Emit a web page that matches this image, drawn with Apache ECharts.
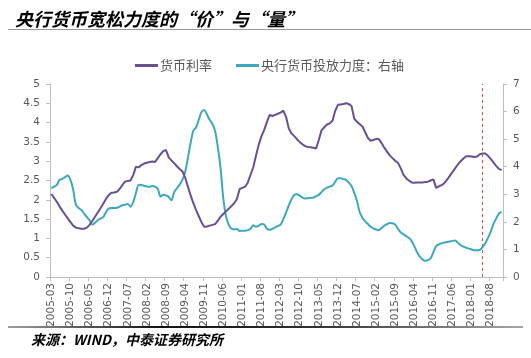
<!DOCTYPE html>
<html>
<head>
<meta charset="utf-8">
<script src="https://cdn.jsdelivr.net/npm/echarts@6/dist/echarts.min.js"></script>
<style>html,body{margin:0;padding:0;background:#fff}#c{width:531px;height:358px}</style>
</head>
<body>
<div id="c"></div>
<script>
// categories: monthly, 2005-03 .. 2018-12
var startYear = 2005, startMonth = 3, monthCount = 166;
var categories = [];
for (var i = 0; i < monthCount; i++) {
  var m = startMonth - 1 + i;
  var y = startYear + Math.floor(m / 12);
  var mm = (m % 12) + 1;
  categories.push(y + '-' + (mm < 10 ? '0' + mm : mm));
}
var markMonth = '2018-05';

var seriesNames = ['货币利率', '央行货币投放力度：右轴'];

// 货币利率 (left axis)
var rateValues = [
  2.15,2.05,1.95,1.83,1.72,1.62,1.52,1.42,1.33,1.28,
  1.26,1.25,1.25,1.28,1.35,1.45,1.56,1.67,1.78,1.90,
  2.02,2.12,2.18,2.19,2.21,2.28,2.38,2.47,2.49,2.50,
  2.64,2.86,2.84,2.90,2.94,2.96,2.98,2.99,2.98,3.08,
  3.18,3.26,3.29,3.10,3.02,2.95,2.87,2.80,2.74,2.58,
  2.35,2.12,1.92,1.74,1.58,1.42,1.30,1.31,1.33,1.35,
  1.37,1.46,1.56,1.63,1.70,1.77,1.84,1.91,2.02,2.28,
  2.31,2.34,2.45,2.65,2.85,3.15,3.43,3.65,3.81,4.02,
  4.20,4.17,4.20,4.23,4.26,4.31,4.15,3.85,3.72,3.65,
  3.57,3.50,3.44,3.39,3.37,3.36,3.35,3.33,3.55,3.80,
  3.88,3.95,3.98,4.05,4.30,4.46,4.47,4.48,4.50,4.48,
  4.43,4.10,4.02,3.96,3.90,3.75,3.60,3.53,3.55,3.58,
  3.57,3.47,3.35,3.25,3.15,3.08,3.01,2.96,2.82,2.65,
  2.56,2.50,2.45,2.44,2.45,2.45,2.45,2.46,2.47,2.50,
  2.53,2.31,2.35,2.38,2.43,2.52,2.62,2.72,2.82,2.92,
  3.00,3.07,3.13,3.13,3.12,3.11,3.12,3.18,3.20,3.20,
  3.14,3.06,2.97,2.88,2.80,2.77
];

// 央行货币投放力度 (right axis)
var supplyValues = [
  3.22,3.28,3.34,3.52,3.56,3.62,3.68,3.52,3.16,2.62,
  2.50,2.43,2.30,2.18,2.05,1.90,1.97,2.06,2.12,2.17,
  2.35,2.48,2.50,2.50,2.51,2.55,2.60,2.62,2.65,2.55,
  2.72,3.05,3.35,3.34,3.31,3.28,3.27,3.30,3.28,3.20,
  2.92,2.98,2.96,2.90,2.78,3.08,3.22,3.35,3.52,3.80,
  4.30,4.85,5.30,5.42,5.70,5.98,6.06,5.90,5.70,5.55,
  5.30,4.70,3.95,2.85,2.20,1.90,1.75,1.73,1.74,1.67,
  1.68,1.68,1.70,1.75,1.88,1.82,1.86,1.92,1.90,1.75,
  1.71,1.75,1.80,1.85,1.90,2.10,2.33,2.60,2.82,2.98,
  3.00,2.95,2.88,2.85,2.86,2.87,2.88,2.93,2.98,3.08,
  3.18,3.24,3.28,3.32,3.45,3.58,3.58,3.55,3.52,3.42,
  3.30,3.05,2.75,2.35,2.15,2.02,1.92,1.82,1.76,1.72,
  1.70,1.78,1.86,1.92,1.96,1.95,1.90,1.75,1.62,1.55,
  1.48,1.42,1.30,1.12,0.90,0.74,0.64,0.59,0.61,0.68,
  0.90,1.12,1.18,1.22,1.25,1.27,1.29,1.31,1.32,1.24,
  1.15,1.10,1.06,1.03,1.00,0.97,0.97,0.98,1.08,1.22,
  1.42,1.65,1.92,2.12,2.30,2.36
];

var leftTicks = { min: 0, max: 5, interval: 0.5 };
var rightTicks = { min: 0, max: 7, interval: 1 };

var titleText = '央行货币宽松力度的“价”与“量”';
var sourceText = '来源：WIND，中泰证券研究所';

var purple = '#6B4E96';
var teal = '#3DA9BE';
var labelColor = '#595959';
var axisColor = '#BFBFBF';
var axisFont = 'DejaVu Sans';
var cjkFont = 'Noto Sans CJK SC';

var chart = echarts.init(document.getElementById('c'), null, { renderer: 'canvas' });
chart.setOption({
  animation: false,
  backgroundColor: '#ffffff',
  title: [{
    text: titleText,
    left: 10, top: 5,
    textStyle: { fontFamily: cjkFont, fontSize: 18, fontStyle: 'italic', fontWeight: 'bold', color: '#000' }
  }, {
    text: sourceText,
    left: 26, top: 328,
    textStyle: { fontFamily: cjkFont, fontSize: 14, fontStyle: 'italic', fontWeight: 'bold', color: '#000' }
  }],
  graphic: [{
    type: 'line', shape: { x1: 8, y1: 29.5, x2: 531, y2: 29.5 },
    style: { stroke: '#9a9a9a', lineWidth: 1.2 }
  }, {
    type: 'line', shape: { x1: 8, y1: 327, x2: 523, y2: 327 },
    style: {
      lineWidth: 2,
      stroke: new echarts.graphic.LinearGradient(0, 0, 1, 0, [
        { offset: 0, color: '#a0a0a0' },
        { offset: 0.3, color: '#111111' },
        { offset: 0.6, color: '#333333' },
        { offset: 1, color: '#a8a8a8' }
      ])
    }
  }],
  legend: {
    top: 54, left: 130,
    itemWidth: 23, itemHeight: 3, itemGap: 24,
    icon: 'rect',
    textStyle: { fontFamily: cjkFont, fontSize: 13, color: labelColor, padding: [0, 0, 0, -3] },
    data: seriesNames
  },
  grid: { left: 50, right: 28, top: 84, bottom: 81 },
  xAxis: {
    type: 'category',
    data: categories,
    boundaryGap: true,
    axisLine: { lineStyle: { color: axisColor } },
    axisTick: { show: true, interval: 6, length: 4, lineStyle: { color: axisColor } },
    axisLabel: { interval: 6, rotate: 90, fontFamily: axisFont, fontSize: 10.5, color: labelColor, margin: 6 }
  },
  yAxis: [{
    type: 'value', min: leftTicks.min, max: leftTicks.max, interval: leftTicks.interval,
    axisLine: { show: true, lineStyle: { color: axisColor } },
    axisTick: { show: true, length: 4, lineStyle: { color: axisColor } },
    splitLine: { show: false },
    axisLabel: { fontFamily: axisFont, fontSize: 10.5, color: labelColor, margin: 10 }
  }, {
    type: 'value', min: rightTicks.min, max: rightTicks.max, interval: rightTicks.interval,
    position: 'right',
    axisLine: { show: true, lineStyle: { color: axisColor } },
    axisTick: { show: true, length: 4, lineStyle: { color: axisColor } },
    splitLine: { show: false },
    axisLabel: { fontFamily: axisFont, fontSize: 10.5, color: labelColor, margin: 10 }
  }],
  series: [{
    name: seriesNames[0], type: 'line', yAxisIndex: 0,
    data: rateValues, showSymbol: false, symbol: 'none',
    lineStyle: { color: purple, width: 2 }, itemStyle: { color: purple },
    z: 3,
    markLine: {
      silent: true, symbol: 'none',
      label: { show: false },
      lineStyle: { color: '#E05050', type: [3, 3], width: 1 },
      data: [{ xAxis: markMonth }]
    }
  }, {
    name: seriesNames[1], type: 'line', yAxisIndex: 1,
    data: supplyValues, showSymbol: false, symbol: 'none', smooth: 0.3,
    lineStyle: { color: teal, width: 2 }, itemStyle: { color: teal },
    z: 2
  }]
});
</script>
</body>
</html>
